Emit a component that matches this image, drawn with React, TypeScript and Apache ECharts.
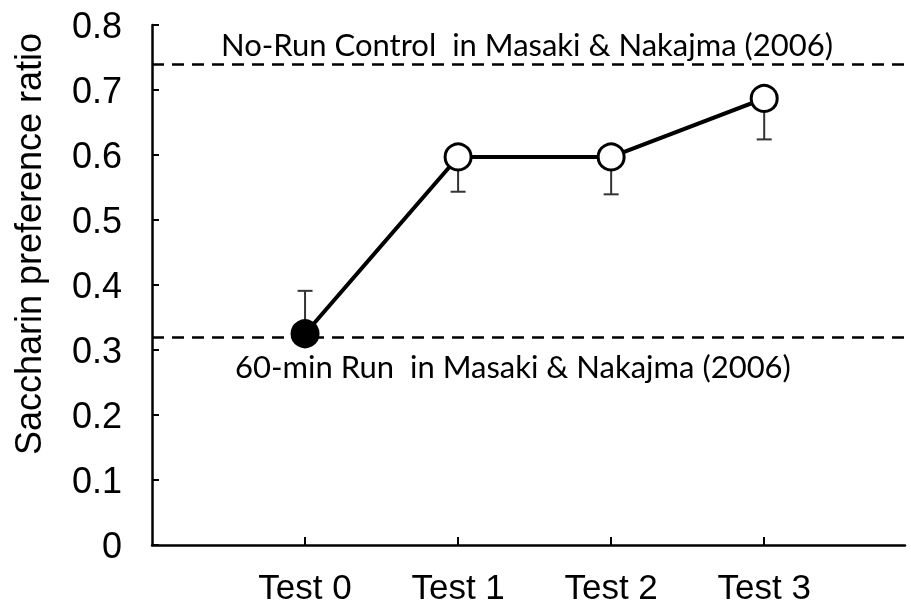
import React, { useEffect, useRef } from "react";
import * as echarts from "echarts";

const categories = ["Test 0", "Test 1", "Test 2", "Test 3"];
const xPositions = [1, 2, 3, 4];
const means = [0.325, 0.597, 0.597, 0.687];
const errorEnds = [0.391, 0.5435, 0.5395, 0.624];
const yTicks = [0, 0.1, 0.2, 0.3, 0.4, 0.5, 0.6, 0.7, 0.8];
const refLines = [
  { value: 0.74, label: "No-Run Control  in Masaki & Nakajma (2006)" },
  { value: 0.3155, label: "60-min Run  in Masaki & Nakajma (2006)" },
];
const yName = "Saccharin preference ratio";

export default function App() {
  const ref = useRef<HTMLDivElement>(null);
  useEffect(() => {
    document.body.style.margin = "0";
    const chart = echarts.init(ref.current!, null, { renderer: "svg" });
    const axisFont = "'Liberation Sans', Arial, sans-serif";
    const noteFont = "Lato, 'Open Sans', sans-serif";
    const lineData = xPositions.map((x, i) =>
      i === 0
        ? { value: [x, means[i]], itemStyle: { color: "#000", borderColor: "#000" } }
        : { value: [x, means[i]] }
    );
    const errData = xPositions.map((x, i) => [x, means[i], errorEnds[i]]);
    chart.setOption({
      animation: false,
      grid: { left: 152, right: 6, top: 25, bottom: 60, containLabel: false },
      xAxis: {
        type: "value",
        min: 0,
        max: 4.92,
        splitLine: { show: false },
        axisLine: { show: true, lineStyle: { color: "#000", width: 2.5 } },
        axisTick: {
          show: true,
          inside: true,
          length: 8,
          customValues: xPositions,
          lineStyle: { color: "#000", width: 2 },
        },
        axisLabel: {
          customValues: xPositions,
          formatter: (v: number) => categories[Math.round(v) - 1] ?? "",
          fontSize: 35,
          lineHeight: 34,
          fontFamily: axisFont,
          color: "#000",
          margin: 24,
        },
      },
      yAxis: {
        type: "value",
        min: 0,
        max: 0.8,
        interval: 0.1,
        splitLine: { show: false },
        axisLine: { show: true, lineStyle: { color: "#000", width: 2.5 } },
        axisTick: {
          show: true,
          inside: true,
          length: 7,
          customValues: yTicks,
          lineStyle: { color: "#000", width: 2 },
        },
        axisLabel: {
          customValues: yTicks,
          formatter: (v: number) => String(Math.round(v * 10) / 10),
          fontSize: 36,
          fontFamily: axisFont,
          color: "#000",
          margin: 30,
        },
      },
      graphic: [
        {
          type: "text",
          x: 28,
          y: 244,
          rotation: Math.PI / 2,
          style: {
            text: yName,
            fontSize: 36,
            fontFamily: axisFont,
            fill: "#000",
            align: "center",
            verticalAlign: "middle",
          },
        },
        {
          type: "text",
          x: 527,
          y: 44,
          style: {
            text: refLines[0].label,
            fontSize: 31,
            fontFamily: noteFont,
            fill: "#000",
            align: "center",
            verticalAlign: "middle",
          },
        },
        {
          type: "text",
          x: 513,
          y: 366,
          style: {
            text: refLines[1].label,
            fontSize: 31,
            fontFamily: noteFont,
            fill: "#000",
            align: "center",
            verticalAlign: "middle",
          },
        },
      ],
      series: [
        {
          type: "custom",
          z: 1,
          silent: true,
          data: errData,
          renderItem: (params: any, api: any) => {
            const x = api.value(0);
            const p0 = api.coord([x, api.value(1)]);
            const p1 = api.coord([x, api.value(2)]);
            const capHalf = 7.5;
            const style = { stroke: "#333", lineWidth: 2 };
            return {
              type: "group",
              children: [
                { type: "line", shape: { x1: p0[0], y1: p0[1], x2: p1[0], y2: p1[1] }, style },
                { type: "line", shape: { x1: p1[0] - capHalf, y1: p1[1], x2: p1[0] + capHalf, y2: p1[1] }, style },
              ],
            };
          },
        },
        {
          type: "line",
          z: 3,
          data: lineData,
          symbol: "circle",
          symbolSize: 26,
          lineStyle: { color: "#000", width: 4 },
          itemStyle: { color: "#fff", borderColor: "#000", borderWidth: 3 },
          markLine: {
            silent: true,
            symbol: "none",
            label: { show: false },
            lineStyle: { color: "#000", width: 2.5, type: [12, 8] },
            data: refLines.map((r) => ({ yAxis: r.value })),
          },
        },
      ],
    });
    return () => chart.dispose();
  }, []);
  return <div ref={ref} style={{ position: "fixed", left: 0, top: 0, width: 911, height: 605 }} />;
}
